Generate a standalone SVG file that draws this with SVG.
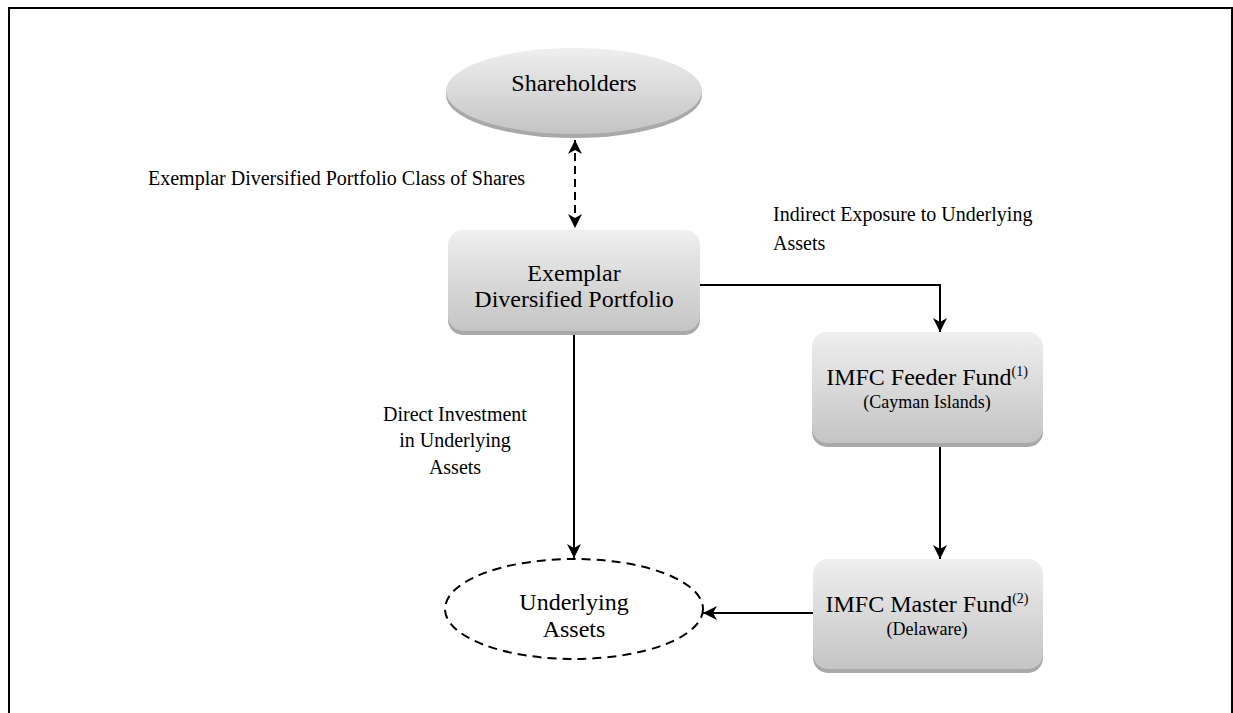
<svg xmlns="http://www.w3.org/2000/svg" width="1233" height="713" viewBox="0 0 1233 713">
<defs>
<linearGradient id="g" x1="0" y1="0" x2="0" y2="1">
<stop offset="0" stop-color="#efefef"/>
<stop offset="1" stop-color="#c4c4c4"/>
</linearGradient>
<marker id="ah" viewBox="0 0 14 14" refX="14" refY="7" markerWidth="14" markerHeight="14" markerUnits="userSpaceOnUse" orient="auto-start-reverse">
<path d="M0,0 L14,7 L0,14 L4,7 Z" fill="#000"/>
</marker>
</defs>
<style>
.t{font-family:"Liberation Serif","Times New Roman",serif;fill:#000}
.n{font-size:24px}
.s{font-size:18px}
.l{font-size:20px}
.sup{font-size:14px}
.shadow{fill:#a9a9a9}
.box{fill:url(#g)}
.c{fill:none;stroke:#000;stroke-width:2}
</style>
<rect x="0" y="0" width="1233" height="713" fill="#fff"/>
<path d="M9,713 V8 H1232 V713" fill="none" stroke="#000" stroke-width="2"/>

<g id="shareholders">
<ellipse cx="574" cy="95" rx="128" ry="43" class="shadow"/>
<ellipse cx="574" cy="91" rx="128" ry="43" class="box"/>
<text x="574" y="91" text-anchor="middle" class="t n">Shareholders</text>
</g>

<g id="exemplar">
<rect x="448" y="234" width="252" height="101" rx="15" class="shadow"/>
<rect x="448" y="230" width="252" height="101" rx="15" class="box"/>
<text x="574" y="281" text-anchor="middle" class="t n">Exemplar</text>
<text x="574" y="307" text-anchor="middle" class="t n">Diversified Portfolio</text>
</g>

<g id="feeder">
<rect x="812" y="336" width="231" height="111" rx="15" class="shadow"/>
<rect x="812" y="332" width="231" height="111" rx="15" class="box"/>
<text x="927" y="385" text-anchor="middle" class="t n">IMFC Feeder Fund<tspan class="sup" dy="-9">(1)</tspan></text>
<text x="927" y="408" text-anchor="middle" class="t s">(Cayman Islands)</text>
</g>

<g id="master">
<rect x="813" y="563" width="230" height="110" rx="15" class="shadow"/>
<rect x="813" y="559" width="230" height="110" rx="15" class="box"/>
<text x="927" y="612" text-anchor="middle" class="t n">IMFC Master Fund<tspan class="sup" dy="-9">(2)</tspan></text>
<text x="927" y="635" text-anchor="middle" class="t s">(Delaware)</text>
</g>

<g id="underlying">
<ellipse cx="574" cy="609" rx="129" ry="50" fill="#fff" stroke="#000" stroke-width="2" stroke-dasharray="9,6"/>
<text x="574" y="610" text-anchor="middle" class="t n">Underlying</text>
<text x="574" y="637" text-anchor="middle" class="t n">Assets</text>
</g>

<g id="connectors">
<line x1="575" y1="140" x2="575" y2="228" class="c" stroke-dasharray="8,5" marker-start="url(#ah)" marker-end="url(#ah)"/>
<polyline points="700,285 940,285 940,332" class="c" marker-end="url(#ah)"/>
<line x1="574" y1="335" x2="574" y2="558" class="c" marker-end="url(#ah)"/>
<line x1="940" y1="447" x2="940" y2="559" class="c" marker-end="url(#ah)"/>
<line x1="813" y1="613" x2="703" y2="613" class="c" marker-end="url(#ah)"/>
</g>

<g id="labels">
<text x="148" y="185" class="t l">Exemplar Diversified Portfolio Class of Shares</text>
<text x="773" y="221" class="t l">Indirect Exposure to Underlying</text>
<text x="773" y="250" class="t l">Assets</text>
<text x="455" y="421" text-anchor="middle" class="t l">Direct Investment</text>
<text x="455" y="447" text-anchor="middle" class="t l">in Underlying</text>
<text x="455" y="474" text-anchor="middle" class="t l">Assets</text>
</g>
</svg>
